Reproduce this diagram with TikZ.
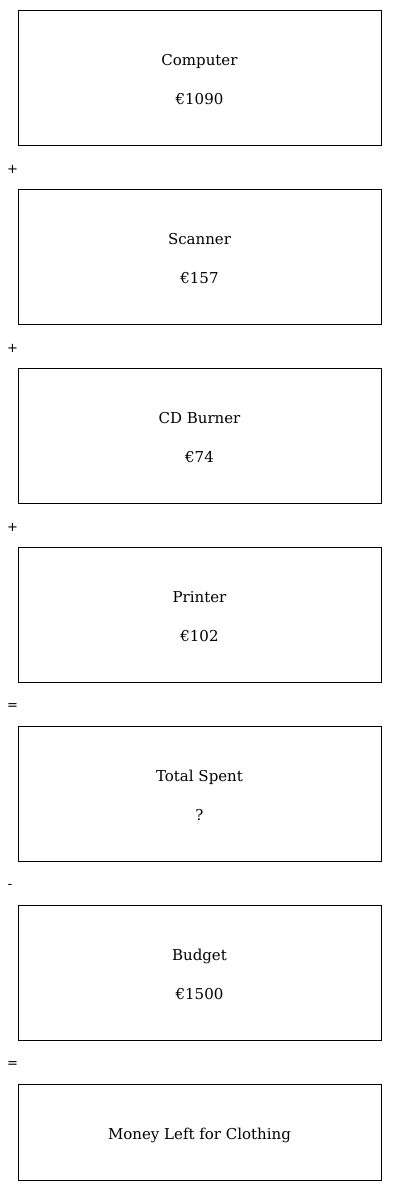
\documentclass[tikz,border=0pt]{standalone}
\usepackage{fontspec}
\setmainfont{DejaVu Serif}
\newfontfamily\opfont{DejaVu Sans}
\begin{document}
\begin{tikzpicture}[x=1pt,y=-1pt,
  itembox/.style={draw, line width=0.8pt, minimum width=363pt, minimum height=135pt, inner sep=0pt},
  itemtext/.style={anchor=base, inner sep=0pt, font=\fontsize{15}{18}\selectfont},
  opsym/.style={inner sep=0pt, font=\opfont\fontsize{13}{15}\selectfont}]
\useasboundingbox (0,0) rectangle (400,1191);
\node[itembox] (b1) at (199.5,77.5) {};
\node[itembox] (b2) at (199.5,256.5) {};
\node[itembox] (b3) at (199.5,435.5) {};
\node[itembox] (b4) at (199.5,614.5) {};
\node[itembox] (b5) at (199.5,793.5) {};
\node[itembox] (b6) at (199.5,972.5) {};
\node[itembox, minimum height=96pt] (b7) at (199.5,1132) {};
\node[itemtext] (t1a) at (199.5,65) {Computer};
\node[itemtext] (t1b) at (199.5,104) {€1090};
\node[itemtext] (t2a) at (199.5,244) {Scanner};
\node[itemtext] (t2b) at (199.5,283) {€157};
\node[itemtext] (t3a) at (199.5,423) {CD Burner};
\node[itemtext] (t3b) at (199.5,462) {€74};
\node[itemtext] (t4a) at (199.5,602) {Printer};
\node[itemtext] (t4b) at (199.5,641) {€102};
\node[itemtext] (t5a) at (199.5,781) {Total Spent};
\node[itemtext] (t5b) at (199.5,820) {?};
\node[itemtext] (t6a) at (199.5,960) {Budget};
\node[itemtext] (t6b) at (199.5,999) {€1500};
\node[itemtext] (t7) at (199.5,1139) {Money Left for Clothing};
\node[opsym] (o1) at (12.5,169.5) {+};
\node[opsym] (o2) at (12.5,348.5) {+};
\node[opsym] (o3) at (12.5,527.5) {+};
\node[opsym] (o4) at (12.5,706.5) {=};
\node[opsym] (o5) at (10,886.5) {-};
\node[opsym] (o6) at (12.5,1064.5) {=};
\end{tikzpicture}
\end{document}
